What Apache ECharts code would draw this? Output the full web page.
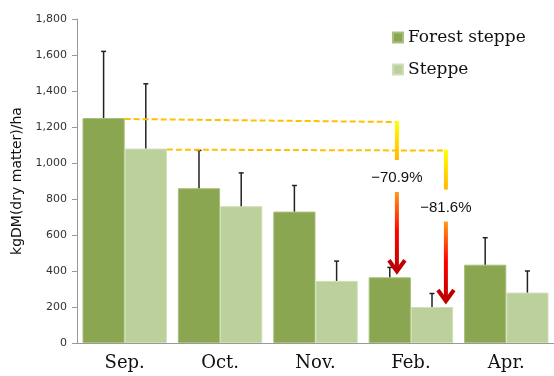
<!DOCTYPE html>
<html><head><meta charset="utf-8">
<script src="https://cdn.jsdelivr.net/npm/echarts@6/dist/echarts.min.js"></script>
<style>html,body{margin:0;padding:0;background:#fff}#c{width:554px;height:376px}</style>
</head><body><div id="c"></div>
<script>
const categories = ['Sep.', 'Oct.', 'Nov.', 'Feb.', 'Apr.'];
const forestSteppe = [1250, 860, 730, 365, 435];
const steppe = [1080, 760, 345, 200, 280];
const forestErr = [370, 210, 145, 55, 150];
const steppeErr = [360, 185, 110, 75, 120];
const yTicks = [0, 200, 400, 600, 800, 1000, 1200, 1400, 1600, 1800];
const changeLabels = ['\u221270.9%', '\u221281.6%'];

const GAP = 0.115;
function errSeries(vals, errs, sign) {
  return {
    type: 'custom', silent: true, z: 5,
    data: vals.map((v, i) => [i, v, errs[i]]),
    encode: { x: 0, y: 1 },
    renderItem(params, api) {
      const i = api.value(0), v = api.value(1), e = api.value(2);
      const band = api.size([1, 0])[0];
      const off = sign * band * (1 - GAP) / 4;
      const p0 = api.coord([i, v]), p1 = api.coord([i, v + e]);
      const x = p0[0] + off;
      return { type: 'group', children: [
        { type: 'line', shape: { x1: x, y1: p0[1], x2: x, y2: p1[1] }, style: { stroke: '#222', lineWidth: 1.5 } },
        { type: 'line', shape: { x1: x - 2.5, y1: p1[1], x2: x + 2.5, y2: p1[1] }, style: { stroke: '#222', lineWidth: 1.5 } }
      ]};
    }
  };
}

const chart = echarts.init(document.getElementById('c'));
chart.setOption({
  animation: false,
  grid: { left: 77, right: 0, top: 19, bottom: 33 },
  legend: {
    orient: 'vertical', left: 387, top: 24, itemWidth: 10, itemHeight: 10, itemGap: 15,
    icon: 'rect',
    textStyle: { fontFamily: 'DejaVu Serif', fontSize: 17, color: '#111' },
    data: ['Forest steppe', 'Steppe']
  },
  xAxis: {
    type: 'category', data: categories,
    axisLine: { lineStyle: { color: '#999' } },
    axisTick: { length: 5, lineStyle: { color: '#999' } },
    axisLabel: { fontFamily: 'DejaVu Serif', fontSize: 18, color: '#111', margin: 11 }
  },
  yAxis: {
    type: 'value', min: yTicks[0], max: yTicks[yTicks.length - 1], interval: 200,
    name: 'kgDM(dry matter)/ha', nameLocation: 'middle', nameGap: 52,
    nameTextStyle: { fontFamily: 'DejaVu Sans', fontSize: 14, color: '#111' },
    axisLine: { show: true, lineStyle: { color: '#999' } },
    axisTick: { show: true, length: 5, lineStyle: { color: '#999' } },
    splitLine: { show: false },
    axisLabel: { fontFamily: 'DejaVu Sans', fontSize: 11, color: '#333', margin: 10,
      formatter: v => v.toLocaleString('en-US') }
  },
  series: [
    { name: 'Forest steppe', type: 'bar', data: forestSteppe, barGap: '0%', barCategoryGap: (GAP * 100) + '%',
      itemStyle: { color: '#8ba650', borderColor: '#a9bf7c', borderWidth: 1 } },
    { name: 'Steppe', type: 'bar', data: steppe,
      itemStyle: { color: '#bcd09b', borderColor: '#d0deb8', borderWidth: 1 } },
    errSeries(forestSteppe, forestErr, -1),
    errSeries(steppe, steppeErr, 1)
  ]
});

// annotations derived from the data through the chart's own scales
const px = (c, v) => chart.convertToPixel({ xAxisIndex: 0, yAxisIndex: 0 }, [c, v]);
const band = px(1, 0)[0] - px(0, 0)[0];
const barW = band * (1 - GAP) / 2;
const yv = v => px(0, v)[1];
const G = echarts.graphic;

function annot(startX, startVal, turnX, dy0, dy1, labelDy, arrowStartDy, targetVal, label) {
  const y0 = yv(startVal) + 1;
  const yTurn = y0 + dy0;
  const yVEnd = yTurn + dy1;
  const yLabel = yTurn + labelDy;
  const yA0 = yTurn + arrowStartDy;
  const yTip = yv(targetVal) - 6;
  return [
    { type: 'polyline', z: 10, shape: { points: [[startX, y0], [turnX, yTurn]] },
      style: { stroke: '#ffc000', lineWidth: 2, lineDash: [6, 3], fill: null } },
    { type: 'line', z: 10, shape: { x1: turnX, y1: yTurn - 1, x2: turnX, y2: yVEnd },
      style: { lineWidth: 4, stroke: new G.LinearGradient(0, yTurn, 0, yVEnd, [
        { offset: 0, color: '#ffff00' }, { offset: 1, color: '#ffb800' }], true) } },
    { type: 'text', z: 10, x: turnX, y: yLabel,
      style: { text: label, fontFamily: 'Liberation Sans', fontSize: 15, fill: '#111', align: 'center', verticalAlign: 'middle' } },
    { type: 'line', z: 10, shape: { x1: turnX, y1: yA0, x2: turnX, y2: yTip - 2 },
      style: { lineWidth: 4, stroke: new G.LinearGradient(0, yA0, 0, yTip, [
        { offset: 0, color: '#ff9a1a' }, { offset: 0.5, color: '#ff0000' }, { offset: 1, color: '#c00000' }], true) } },
    { type: 'polyline', z: 10, shape: { points: [[turnX - 8, yTip - 11], [turnX, yTip], [turnX + 8, yTip - 11]] },
      style: { stroke: '#c00000', lineWidth: 4, fill: null, lineJoin: 'miter' } }
  ];
}

const sepX = px(0, 0)[0];
const febX = px(3, 0)[0];
chart.setOption({ graphic: [
  ...annot(sepX, forestSteppe[0], febX - 14, 3, 38, 56, 70, forestSteppe[3], changeLabels[0]),
  ...annot(sepX + barW, steppe[0], febX + 35, 1, 39, 57, 71, steppe[3], changeLabels[1])
]});
</script>
</body></html>
